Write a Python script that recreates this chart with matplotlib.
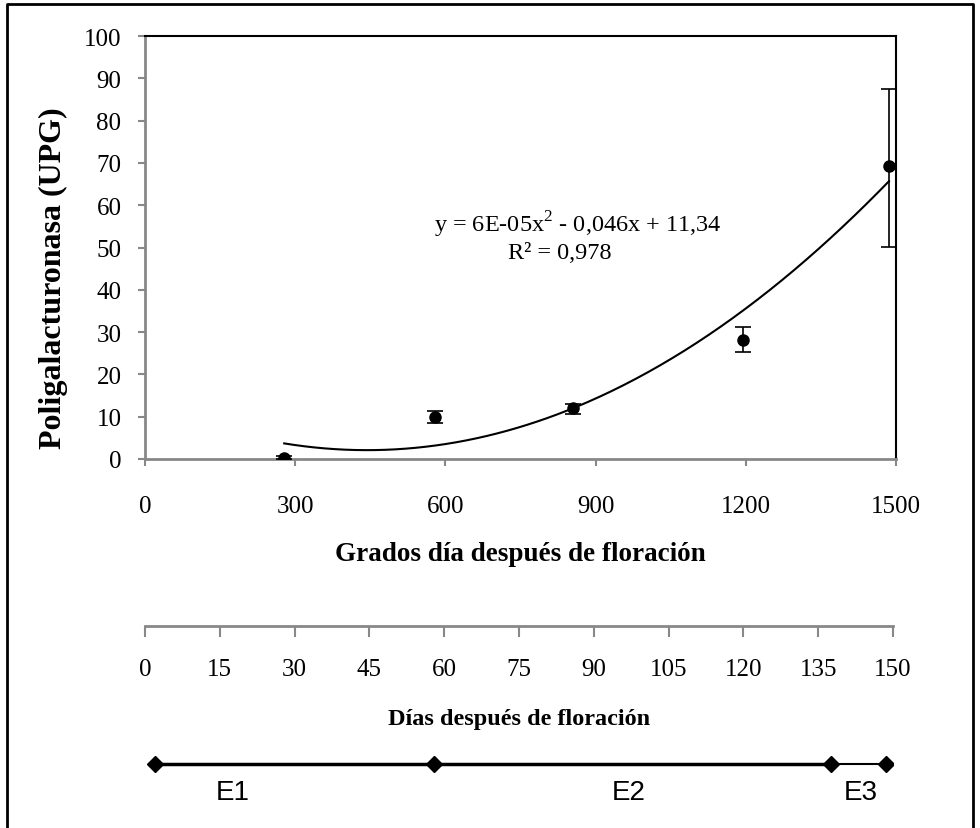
import matplotlib.pyplot as plt
import numpy as np
from matplotlib.lines import Line2D

# Grados día después de floración vs actividad de poligalacturonasa
gdd = [278, 579, 855, 1194, 1486]
upg = [0.3, 9.9, 12.0, 28.2, 69.2]
err_low = [0.3, 1.4, 1.4, 3.0, 19.0]
err_high = [0.3, 1.4, 1.0, 3.0, 18.2]

y_ticks = [0, 10, 20, 30, 40, 50, 60, 70, 80, 90, 100]
gdd_ticks = [0, 300, 600, 900, 1200, 1500]
dias_ticks = [0, 15, 30, 45, 60, 75, 90, 105, 120, 135, 150]

# límites de las etapas (días)
etapa_lim = [2, 58, 137.5, 148.5]
etapa_nombres = ["E1", "E2", "E3"]
etapa_pos = [17.5, 97, 143.5]

ecuacion = "y = 6E-05x$^2$ - 0,046x + 11,34"
r2_txt = "R² = 0,978"

plt.rcParams['font.family'] = ['Liberation Serif', 'DejaVu Serif']
plt.rcParams['mathtext.fontset'] = 'custom'
plt.rcParams['mathtext.rm'] = 'Liberation Serif'
gray = '#888888'

W, H = 980, 829
fig = plt.figure(figsize=(W / 100, H / 100), dpi=100)

def box(l, t, r, b):
    return [l / W, 1 - b / H, (r - l) / W, (b - t) / H]

# marco exterior
fig.add_artist(Line2D([7 / W, 7 / W, 973 / W, 973 / W], [0, 1 - 5 / H, 1 - 5 / H, 0],
                      transform=fig.transFigure, color='black', lw=2))

ax = fig.add_axes(box(145, 37, 896, 460))
ax.errorbar(gdd, upg, yerr=[err_low, err_high], fmt='o', color='black',
            markersize=8, capsize=6, elinewidth=1.2, capthick=1.2, zorder=3)

# línea de tendencia polinómica de grado 2
coef = np.polyfit(gdd, upg, 2)
xs = np.linspace(gdd[0], gdd[-1], 300)
ax.plot(xs, np.polyval(coef, xs), color='black', lw=1.5)

ax.text(865, 55.6, ecuacion, ha='center', va='center', fontsize=17.5)
ax.text(829, 48.7, r2_txt, ha='center', va='center', fontsize=17.5)

ax.set_xlim(0, 1500)
ax.set_ylim(0, 100)
ax.set_xticks(gdd_ticks)
ax.set_yticks(y_ticks)
ax.tick_params(axis='both', labelsize=18, color=gray, length=5, width=1.5)
ax.tick_params(axis='x', pad=21)
ax.tick_params(axis='y', pad=12)
for s in ['left', 'bottom']:
    ax.spines[s].set_color(gray)
    ax.spines[s].set_linewidth(2)
for s in ['top', 'right']:
    ax.spines[s].set_color('black')
    ax.spines[s].set_linewidth(1.5)
ax.set_xlabel("Grados día después de floración", fontsize=19.5, fontweight='bold', labelpad=17)
ax.set_ylabel("Poligalacturonasa (UPG)", fontsize=23, fontweight='bold')
ax.yaxis.set_label_coords(-0.102, 0.43)

# eje de días después de floración
ax2 = fig.add_axes(box(145, 627, 893, 640))
ax2.set_xlim(0, 150)
ax2.set_xticks(dias_ticks)
ax2.set_yticks([])
for s in ['left', 'right', 'bottom']:
    ax2.spines[s].set_visible(False)
ax2.spines['top'].set_color(gray)
ax2.spines['top'].set_linewidth(2)
ax2.xaxis.set_ticks_position('top')
ax2.tick_params(axis='x', direction='in', length=8, color=gray, width=1.5,
                labeltop=False, labelbottom=True, labelsize=18, pad=14)
ax2.patch.set_visible(False)
ax2.set_xlabel("Días después de floración", fontsize=17.5, fontweight='bold', labelpad=20)

# etapas fenológicas
ax3 = fig.add_axes(box(145, 750, 893, 810))
ax3.set_xlim(0, 150)
ax3.set_ylim(0, 1)
ax3.axis('off')
ax3.plot(etapa_lim[:3], [0.75] * 3, color='black', lw=2.5)
ax3.plot(etapa_lim[2:], [0.75] * 2, color='black', lw=1.5)
ax3.plot(etapa_lim, [0.75] * len(etapa_lim), 'D', color='black', markersize=8)
for nombre, p in zip(etapa_nombres, etapa_pos):
    ax3.text(p, 0.28, nombre, ha='center', va='center', fontsize=20,
             family=['Liberation Sans', 'DejaVu Sans'])

fig.savefig('out.png', dpi=100)
